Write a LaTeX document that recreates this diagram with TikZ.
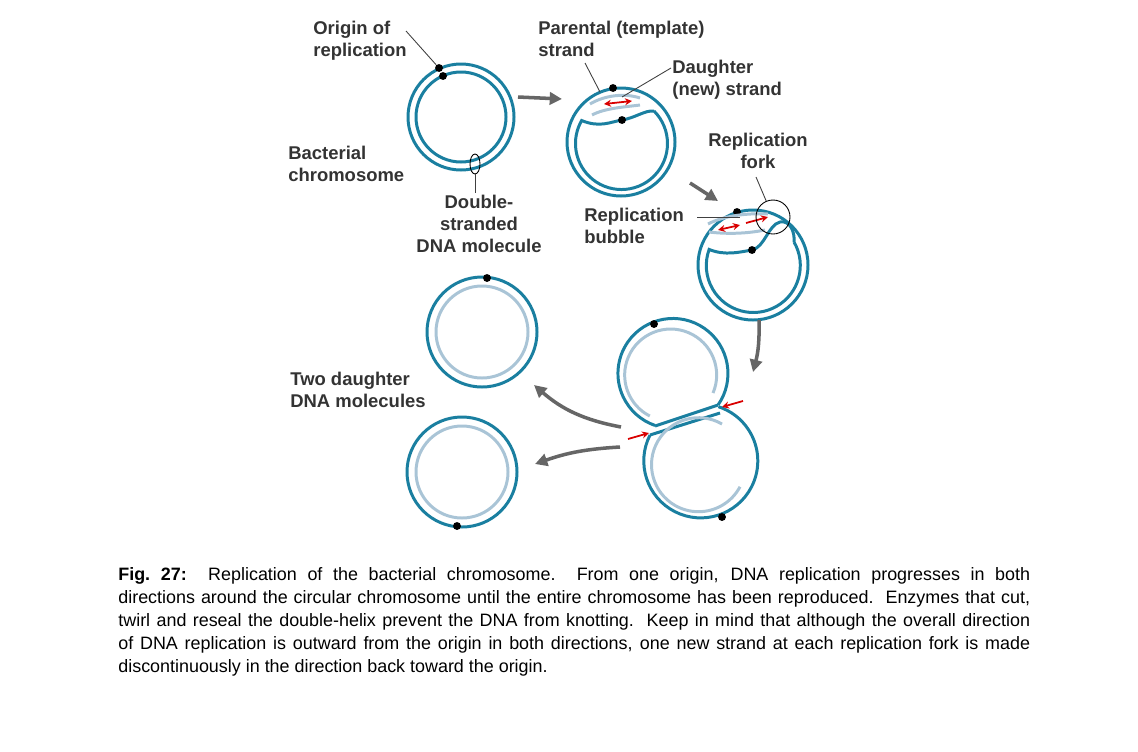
\documentclass[tikz,border=0pt]{standalone}
\usepackage{fontspec}
\setmainfont{Liberation Sans}
\usetikzlibrary{arrows.meta,shapes.geometric}
\definecolor{teal1}{HTML}{1A7FA0}
\definecolor{lblue}{HTML}{A9C4D6}
\definecolor{txt}{HTML}{333333}
\begin{document}
\begin{tikzpicture}[x=0.02cm,y=-0.02cm,
  dna/.style={teal1,line width=1.7pt},
  dau/.style={lblue,line width=1.7pt},
  dot/.style={circle,fill=black,inner sep=0pt,minimum size=4.5pt},
  lbl/.style={font=\fontsize{10.5}{12.5}\selectfont\bfseries,text=txt,inner sep=0pt},
  lead/.style={black!75,line width=0.5pt},
  garr/.style={gray!80!black,line width=2pt,-{Triangle[length=7pt,width=7pt]}},
  rarr/.style={red!85!black,line width=1pt,-{Stealth[length=4pt,width=4pt]}}]
\useasboundingbox (0,0) rectangle (1138,751);
% Circle A
\draw[dna] (461,117) circle (53);
\draw[dna] (461,117) circle (45);
\node[dot] (oA) at (439,68) {};
\node[dot] (oA2) at (443,76) {};
\node[draw=black,ellipse,line width=0.5pt,minimum width=0.2cm,minimum height=0.4cm,inner sep=0pt] (ell) at (475,164) {};
% Circle B
\draw[dna] (621,142) circle (54);
\draw[dna] (654,111) arc[start angle=315,end angle=570,radius=46]
  .. controls (600,128) and (610,122) .. (622,120) .. controls (635,118) and (645,110) .. (654,111);
\node[dot] (oB) at (622,120) {};
\node[dot] (oB2) at (613,88) {};
\draw[dau] (590,104) .. controls (605,95) and (625,93) .. (640,98);
\draw[dau] (592,115) .. controls (605,108) and (625,107) .. (640,105);
\coordinate (rb1) at (604,104); \coordinate (rb2) at (632,101);
\draw[red!85!black,line width=1pt,{Stealth[length=4pt,width=4pt]}-{Stealth[length=4pt,width=4pt]}] (rb1) -- (rb2);
% Circle C
\draw[dna] (753,265) circle (55);
\draw[dna] (794,242) arc[start angle=330,end angle=560,radius=47]
  .. controls (725,256) and (740,252) .. (752,250) .. controls (765,247) and (768,225) .. (780,222) .. controls (790,220) and (795,232) .. (794,242);
\node[dot] (oC) at (752,250) {};
\node[dot] (oC2) at (737,212) {};
\draw[dau] (708,224) .. controls (725,215) and (750,213) .. (768,214);
\draw[dau] (709,232) .. controls (725,234) and (745,234) .. (765,230);
\coordinate (rc1) at (718,230); \coordinate (rc2) at (740,225);
\coordinate (rc3) at (746,223); \coordinate (rc4) at (768,217);
\draw[red!85!black,line width=1pt,{Stealth[length=4pt,width=4pt]}-{Stealth[length=4pt,width=4pt]}] (rc1) -- (rc2);
\draw[rarr] (rc3) -- (rc4);
\node[draw=black,circle,line width=0.5pt,minimum size=0.68cm,inner sep=0pt] (fork) at (773,217) {};
% Theta stage
\draw[dna] (718,405) arc[start angle=35,end angle=-251,radius=55];
\draw[dna] (650,435) arc[start angle=207,end angle=-72,radius=57];
\draw[dna] (655,426) -- (718,405);
\draw[dna] (650,435) -- (720,413);
\draw[dau] (713,393) arc[start angle=23,end angle=-243,radius=46];
\draw[dau] (722,424) arc[start angle=-60,end angle=-332,radius=47];
\node[dot] (oT) at (654,324) {};
\node[dot] (oT2) at (722,517) {};
\coordinate (ra1) at (628,439); \coordinate (ra2) at (649,433);
\coordinate (ra3) at (743,401); \coordinate (ra4) at (722,407);
\draw[rarr] (ra1) -- (ra2);
\draw[rarr] (ra3) -- (ra4);
% Daughter circles
\draw[dna] (482,332) circle (55);
\draw[dau] (482,332) circle (46);
\node[dot] (d1) at (487,278) {};
\draw[dna] (462,472) circle (55);
\draw[dau] (462,472) circle (46);
\node[dot] (d2) at (457,526) {};
% Gray arrows
\coordinate (g1) at (518,97); \coordinate (g2) at (562,99);
\draw[garr] (g1) -- (g2);
\coordinate (g3) at (690,183); \coordinate (g4) at (718,201);
\draw[garr] (g3) -- (g4);
\coordinate (g5) at (759,320); \coordinate (g6) at (753,372);
\draw[garr] (g5) to[bend left=8] (g6);
\coordinate (g7) at (621,427); \coordinate (g8) at (534,385);
\draw[garr] (g7) to[bend left=15] (g8);
\coordinate (g9) at (620,447); \coordinate (g10) at (535,464);
\draw[garr] (g9) to[bend right=8] (g10);
% Labels
\node[lbl,align=left,anchor=north west] (lo) at (313,21) {Origin of\\replication};
\draw[lead] (406,31) -- (oA);
\node[lbl,align=left,anchor=north west] (lp) at (538,21) {Parental (template)\\strand};
\draw[lead] (585,63) -- (600,92);
\node[lbl,align=left,anchor=north west] (ld) at (672,60) {Daughter\\(new) strand};
\draw[lead] (671,68) -- (622,97);
\node[lbl,align=center,anchor=north] (lf) at (758,133) {Replication\\fork};
\draw[lead] (756,177) -- (fork);
\node[lbl,align=left,anchor=north west] (lb) at (288,146) {Bacterial\\chromosome};
\node[lbl,align=center,anchor=north] (lds) at (479,195) {Double-\\stranded\\DNA molecule};
\draw[lead] (ell.south) -- (475,193);
\node[lbl,align=left,anchor=north west] (lr) at (584,208) {Replication\\bubble};
\draw[lead] (697,217) -- (740,217);
\node[lbl,align=left,anchor=north west] (lt) at (290,372) {Two daughter\\DNA molecules};
% Caption
\node[anchor=north west,inner sep=0pt,text width=18.24cm,align=justify,font=\fontsize{10.2}{13.1}\selectfont,
  execute at begin node={\hyphenpenalty=10000\exhyphenpenalty=10000}] (cap) at (118,567) {%
\textbf{Fig.~27:}\hspace{1.2em}Replication of the bacterial chromosome.\ \ From one origin, DNA replication progresses in both\linebreak directions around the circular chromosome until the entire chromosome has been reproduced.\ \ Enzymes that cut,\linebreak twirl and reseal the double-helix prevent the DNA from knotting.\ \ Keep in mind that although the overall direction\linebreak of DNA replication is outward from the origin in both directions, one new strand at each replication fork is made\linebreak discontinuously in the direction back toward the origin.};
\end{tikzpicture}
\end{document}
